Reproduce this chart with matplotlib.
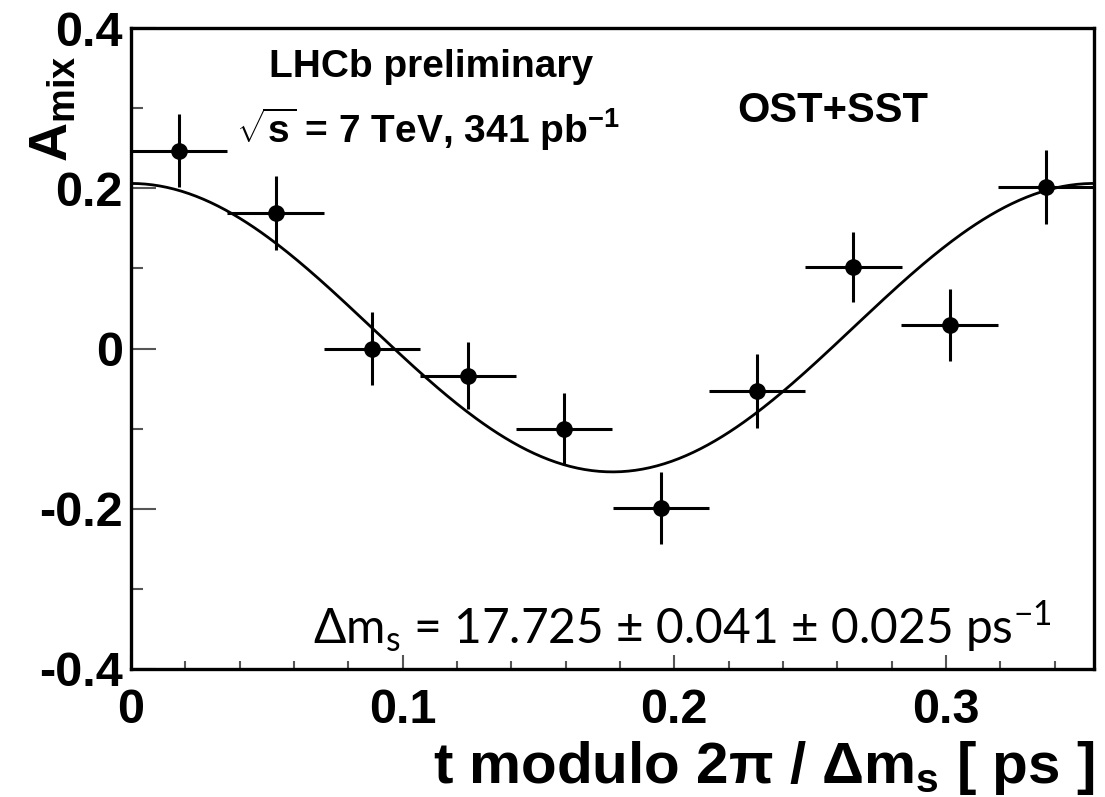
import numpy as np
import matplotlib
matplotlib.use("Agg")
import matplotlib.pyplot as plt
from matplotlib.ticker import MultipleLocator

# ---- data ----
dm_s = 17.725                      # ps^-1
period = 2 * np.pi / dm_s          # x range of the folded plot
n_bins = 10
bin_half_width = period / n_bins / 2
bin_centers = [0.0177, 0.0532, 0.0886, 0.1241, 0.1595,
               0.1950, 0.2304, 0.2659, 0.3013, 0.3368]
a_mix = [0.247, 0.169, 0.000, -0.034, -0.100,
         -0.199, -0.053, 0.102, 0.029, 0.202]
a_err = [0.046, 0.046, 0.045, 0.042, 0.045,
         0.045, 0.046, 0.044, 0.045, 0.046]

fit_amplitude = 0.180
fit_offset = 0.026

# ---- style ----
plt.rcParams['font.family'] = ['Liberation Sans', 'DejaVu Sans']
plt.rcParams['mathtext.fontset'] = 'custom'
plt.rcParams['mathtext.rm'] = 'Liberation Sans'
plt.rcParams['mathtext.bf'] = 'Liberation Sans:bold'
plt.rcParams['mathtext.it'] = 'Liberation Sans:italic'

fig = plt.figure(figsize=(11.05, 7.97), dpi=100)
ax = fig.add_axes([131/1105, 1 - 669/797, (1094 - 131)/1105, (669 - 28)/797])

# fit curve
t = np.linspace(0, period, 400)
ax.plot(t, fit_offset + fit_amplitude * np.cos(dm_s * t), color='black', lw=2.0, zorder=2)

# data points
ax.errorbar(bin_centers, a_mix, xerr=bin_half_width, yerr=a_err, fmt='o',
            color='black', ms=11, elinewidth=2.2, capsize=0, zorder=3)

ax.set_xlim(0, period)
ax.set_ylim(-0.4, 0.4)

ax.xaxis.set_major_locator(MultipleLocator(0.1))
ax.xaxis.set_minor_locator(MultipleLocator(0.02))
ax.yaxis.set_major_locator(MultipleLocator(0.2))
ax.yaxis.set_minor_locator(MultipleLocator(0.1))

ax.set_xticks([0, 0.1, 0.2, 0.3])
ax.set_xticklabels(['0', '0.1', '0.2', '0.3'])
ax.set_yticks([-0.4, -0.2, 0, 0.2, 0.4])
ax.set_yticklabels(['-0.4', '-0.2', '0', '0.2', '0.4'])

for lab in ax.get_xticklabels() + ax.get_yticklabels():
    lab.set_fontweight('bold')
    lab.set_fontsize(35)

ax.tick_params(axis='y', which='major', direction='in', length=18, width=1.5, pad=6, color='#555555')
ax.tick_params(axis='y', which='minor', direction='in', length=8.5, width=1.5, color='#555555')
ax.tick_params(axis='x', which='major', direction='in', length=10, width=1.5, pad=14, color='#555555')
ax.tick_params(axis='x', which='minor', direction='in', length=6, width=1.5, color='#555555')
ax.tick_params(top=False, right=False)

for sp in ax.spines.values():
    sp.set_linewidth(2.4)

# axis titles
fig.text(54/1105, 1 - 55/797, r'$\mathbf{A}_{\mathbf{mix}}$', rotation=90,
         ha='center', va='top', fontsize=39, fontweight='bold')
fig.text(1094/1105, 1 - 783/797, r't modulo 2π / Δ$\mathbf{m}_{\mathbf{s}}$ [ ps ]',
         ha='right', va='baseline', fontsize=42, fontweight='bold')

# annotations
fig.text(431/1105, 1 - 67/797, 'LHCb preliminary', ha='center', va='center',
         fontsize=28, fontweight='bold')
fig.text(428/1105, 1 - 129/797, r'$\sqrt{\mathbf{s}}$ = 7 TeV, 341 pb$^{\mathbf{-1}}$', ha='center', va='center',
         fontsize=28, fontweight='bold')
fig.text(833/1105, 1 - 111/797, 'OST+SST', ha='center', va='center',
         fontsize=30, fontweight='bold')
fig.text(1052/1105, 1 - 644/797,
         r'Δm$_{\mathregular{s}}$ = 17.725 ± 0.041 ± 0.025 ps$^{\mathregular{-1}}$',
         ha='right', va='baseline', fontsize=34.5, family=['Lato', 'DejaVu Sans'])

fig.savefig('out.png', dpi=100, facecolor='white')
